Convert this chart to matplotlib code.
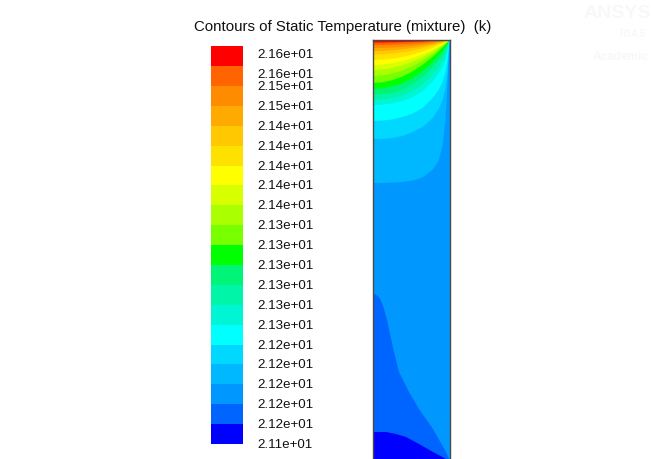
# -*- coding: utf-8 -*-

"""
Static temperature contours of the mixture, drawn in the banded Fluent style.
"""

import matplotlib

matplotlib.use("Agg")

import matplotlib.pyplot as plt

plt.rcParams["font.family"] = ["Liberation Sans", "DejaVu Sans"]

TITLE = "Contours of Static Temperature (mixture)  (k)"

# legend labels, bottom of the colour bar first
LEVEL_LABELS = [
    "2.11e+01",
    "2.12e+01", "2.12e+01", "2.12e+01", "2.12e+01", "2.12e+01",
    "2.13e+01", "2.13e+01", "2.13e+01", "2.13e+01", "2.13e+01", "2.13e+01",
    "2.14e+01", "2.14e+01", "2.14e+01", "2.14e+01", "2.14e+01",
    "2.15e+01", "2.15e+01",
    "2.16e+01", "2.16e+01",
]

# band colours, lowest band first
BAND_COLORS = [
    "#0000ff", "#0064ff", "#0098ff", "#00b8ff", "#00d8ff",
    "#00ffff", "#00f5d5", "#00f5a8", "#00f578", "#00ff00",
    "#78ff00", "#aaff00", "#d7ff00", "#ffff00", "#ffe100",
    "#ffc800", "#ffaa00", "#ff8c00", "#ff6400", "#ff0000",
]

# the domain is 77 units wide; positions across it, left wall = 0
X_STATIONS = [0, 10, 20, 30, 40, 50, 60, 66, 70, 73, 75, 77]

# depth below the top wall of the iso-line that bounds each band from below
UPPER_ISOLINES = {
    3: [143, 143, 142.5, 142, 140.5, 137.5, 130, 121, 106, 80, 45, 0],
    4: [99, 98.8, 98, 96, 92.1, 87.1, 78.2, 69.3, 60.4, 48.5, 32.7, 0],
    5: [81, 80.6, 79.4, 77.0, 73.7, 68.0, 58.3, 50.2, 42.1, 32.4, 20.3, 0],
    6: [65, 64.7, 63.4, 61.1, 57.2, 51.4, 41.6, 33.8, 27.3, 19.5, 11.1, 0],
    7: [60, 59.4, 58.2, 55.5, 51.0, 44.7, 34.8, 27.6, 21.6, 14.4, 7.8, 0],
    8: [55, 54.5, 52.8, 49.5, 44.6, 37.4, 27.5, 20.4, 14.9, 9.4, 5.0, 0],
    9: [49, 48.5, 46.5, 43.1, 38.2, 31.4, 22.5, 16.2, 11.3, 6.9, 3.4, 0],
    10: [43, 42.3, 40.1, 36.5, 31.4, 24.9, 16.9, 11.4, 7.5, 4.3, 2.2, 0],
    11: [36, 35.4, 33.6, 30.5, 26.3, 20.8, 14.1, 9.5, 6.3, 3.6, 1.8, 0],
    12: [30, 29.5, 28.0, 25.4, 21.9, 17.3, 11.8, 8.0, 5.2, 3.0, 1.5, 0],
    13: [25, 24.6, 23.3, 21.2, 18.3, 14.5, 9.8, 6.6, 4.4, 2.5, 1.3, 0],
    14: [20, 19.7, 18.7, 17.0, 14.6, 11.6, 7.9, 5.3, 3.5, 2.0, 1.0, 0],
    15: [14.5, 14.3, 13.5, 12.3, 10.6, 8.4, 5.7, 3.8, 2.5, 1.5, 0.7, 0],
    16: [11, 10.8, 10.3, 9.3, 8.0, 6.4, 4.3, 2.9, 1.9, 1.1, 0.6, 0],
    17: [8, 7.9, 7.5, 6.8, 5.8, 4.6, 3.1, 2.1, 1.4, 0.8, 0.4, 0],
    18: [5, 4.9, 4.7, 4.2, 3.7, 2.9, 2.0, 1.3, 0.9, 0.5, 0.3, 0],
    19: [2.5, 2.5, 2.3, 2.1, 1.8, 1.4, 1.0, 0.7, 0.4, 0.3, 0.1, 0],
}

# cooler tongue running down the left wall (band 1)
TONGUE_X = [0, 3, 6.5, 9, 11.5, 14, 16.5, 21.5, 26.5, 36.5, 46.5, 60.5, 73.5, 77]
TONGUE_DEPTH = [254, 254.5, 257, 262, 269, 278, 289, 312, 332, 352, 369, 389, 412, 420]

# coldest pool at the bottom (band 0)
POOL_X = [0, 13.5, 23.5, 33.5, 46.5, 60.5, 70, 77]
POOL_DEPTH = [392, 392, 394, 397, 404, 412, 417, 421]

DOMAIN_WIDTH = 77
DOMAIN_DEPTH = 420
BODY_BAND = 2


def draw_domain(fig) -> None:
    """Draw the banded temperature field inside the domain."""

    ax = fig.add_axes([372.5 / 652, -1 / 460, 77 / 652, 420 / 460])

    ax.fill(
        [0, DOMAIN_WIDTH, DOMAIN_WIDTH, 0],
        [0, 0, DOMAIN_DEPTH + 5, DOMAIN_DEPTH + 5],
        color=BAND_COLORS[BODY_BAND],
        linewidth=0,
    )

    for band in sorted(UPPER_ISOLINES):
        depths = UPPER_ISOLINES[band]
        ax.fill(
            [0] + X_STATIONS,
            [0] + depths,
            color=BAND_COLORS[band],
            linewidth=0,
        )

    ax.fill(
        TONGUE_X + [DOMAIN_WIDTH, 0],
        TONGUE_DEPTH + [DOMAIN_DEPTH + 5, DOMAIN_DEPTH + 5],
        color=BAND_COLORS[1],
        linewidth=0,
    )

    ax.fill(
        POOL_X + [DOMAIN_WIDTH, 0],
        POOL_DEPTH + [DOMAIN_DEPTH + 5, DOMAIN_DEPTH + 5],
        color=BAND_COLORS[0],
        linewidth=0,
    )

    ax.set_xlim(0, DOMAIN_WIDTH)
    ax.set_ylim(DOMAIN_DEPTH, 0)
    ax.set_xticks([])
    ax.set_yticks([])

    for side in ["left", "right", "top"]:
        ax.spines[side].set_color("#4a4a4a")
        ax.spines[side].set_linewidth(1.0)
    ax.spines["bottom"].set_visible(False)


def draw_legend(fig) -> None:
    """Draw the banded colour scale with its level labels."""

    ax = fig.add_axes([211 / 652, 15 / 460, 32 / 652, 397.7 / 460])

    n_bands = len(BAND_COLORS)
    ax.bar(
        [0] * n_bands,
        [1] * n_bands,
        bottom=list(range(n_bands)),
        width=1,
        color=BAND_COLORS,
        linewidth=0,
    )

    ax.set_xlim(-0.5, 0.5)
    ax.set_ylim(0, n_bands)
    ax.axis("off")

    # the two top labels are pushed down so they stay clear of each other
    nudges = {n_bands - 1: -5.6, n_bands: -5.6}

    for level, label in enumerate(LEVEL_LABELS):
        ax.annotate(
            label,
            xy=(0.5, level),
            xytext=(10.0, nudges.get(level, 0)),
            textcoords="offset points",
            ha="left",
            va="center",
            fontsize=9.6,
            color="#111111",
        )


def main() -> None:
    fig = plt.figure(figsize=(6.52, 4.60), dpi=100)
    fig.patch.set_facecolor("white")

    fig.text(
        342.5 / 652,
        1 - 27 / 460,
        TITLE,
        ha="center",
        va="center",
        fontsize=10.8,
        color="#111111",
    )

    # faint watermark in the top right corner
    fig.text(0.998, 1 - 14 / 460, "ANSYS", ha="right", va="center",
             fontsize=14, fontweight="bold", color="#f8f8f8")
    fig.text(0.99, 1 - 34 / 460, "R14.5", ha="right", va="center",
             fontsize=7, fontweight="bold", color="#f8f8f8")
    fig.text(0.995, 1 - 57 / 460, "Academic", ha="right", va="center",
             fontsize=8.5, fontweight="bold", color="#f8f8f8")

    draw_legend(fig)
    draw_domain(fig)

    fig.savefig("out.png", dpi=100, facecolor="white")
    plt.close(fig)


if __name__ == "__main__":
    main()
